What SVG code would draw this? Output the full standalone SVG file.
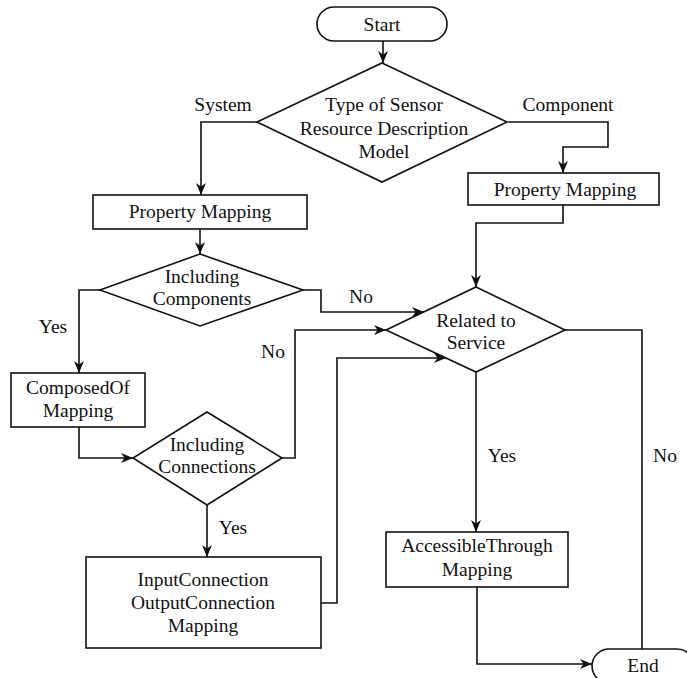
<svg xmlns="http://www.w3.org/2000/svg" width="687" height="678" viewBox="0 0 687 678">
<defs>
<style>
.s{fill:#fff;stroke:#111;stroke-width:1.6}
.c path{fill:none;stroke:#111;stroke-width:1.6}
.t{font-family:"Times New Roman","Liberation Serif","DejaVu Serif",serif;font-size:19.5px;fill:#111;text-anchor:middle}
</style>
<marker id="ah" viewBox="0 0 12 10" refX="12" refY="5" markerWidth="12" markerHeight="10" markerUnits="userSpaceOnUse" orient="auto">
<path d="M0,0 L12,5 L0,10 L3.5,5 z" fill="#111"/>
</marker>
</defs>
<rect width="687" height="678" fill="#fff"/>
<g class="c" id="connectors">
<path d="M383,41 V63" marker-end="url(#ah)"/>
<path d="M257,122 H201 V195" marker-end="url(#ah)"/>
<path d="M508,122 H608 V147 H563 V173" marker-end="url(#ah)"/>
<path d="M200,229 V254" marker-end="url(#ah)"/>
<path d="M100,290 H79 V373" marker-end="url(#ah)"/>
<path d="M303,290 H321 V312 H424" marker-end="url(#ah)"/>
<path d="M79,427 V458 H133" marker-end="url(#ah)"/>
<path d="M282,458 H295 V330 H386" marker-end="url(#ah)"/>
<path d="M207,505 V557" marker-end="url(#ah)"/>
<path d="M321,603 H337 V358 H446" marker-end="url(#ah)"/>
<path d="M563,205 V223 H476 V287" marker-end="url(#ah)"/>
<path d="M476,372 V532" marker-end="url(#ah)"/>
<path d="M565,330 H642 V649"/>
<path d="M477,587 V664 H592" marker-end="url(#ah)"/>
</g>
<g id="labels" class="t">
<text x="223" y="111">System</text>
<text x="568" y="111">Component</text>
<text x="53" y="333">Yes</text>
<text x="361" y="303">No</text>
<text x="273" y="358">No</text>
<text x="233" y="534">Yes</text>
<text x="502" y="462">Yes</text>
<text x="665" y="462">No</text>
</g>
<g id="start" class="t">
<rect class="s" x="317" y="7" width="130" height="34" rx="17"/>
<text x="382" y="31">Start</text>
</g>
<g id="type-model" class="t">
<polygon class="s" points="382,63 507,122 382,182 257,122"/>
<text x="384" y="111">Type of Sensor</text>
<text x="384" y="134.5">Resource Description</text>
<text x="384" y="158">Model</text>
</g>
<g id="property-mapping-system" class="t">
<rect class="s" x="93" y="195" width="214" height="34"/>
<text x="200" y="218">Property Mapping</text>
</g>
<g id="property-mapping-component" class="t">
<rect class="s" x="468" y="173" width="191" height="32"/>
<text x="565" y="196">Property Mapping</text>
</g>
<g id="including-components" class="t">
<polygon class="s" points="200,254 303,290 200,326 100,290"/>
<text x="202" y="283">Including</text>
<text x="202" y="305">Components</text>
</g>
<g id="related-to-service" class="t">
<polygon class="s" points="476,287 565,330 476,372 386,330"/>
<text x="476" y="327">Related to</text>
<text x="476" y="349">Service</text>
</g>
<g id="composedof-mapping" class="t">
<rect class="s" x="11" y="373" width="134" height="54"/>
<text x="78" y="394">ComposedOf</text>
<text x="78" y="417">Mapping</text>
</g>
<g id="including-connections" class="t">
<polygon class="s" points="207,412 282,458 207,505 133,458"/>
<text x="207" y="451">Including</text>
<text x="207" y="473">Connections</text>
</g>
<g id="connection-mapping" class="t">
<rect class="s" x="86" y="557" width="235" height="91"/>
<text x="203" y="586">InputConnection</text>
<text x="203" y="609">OutputConnection</text>
<text x="203" y="632">Mapping</text>
</g>
<g id="accessiblethrough-mapping" class="t">
<rect class="s" x="386" y="532" width="182" height="55"/>
<text x="477" y="552">AccessibleThrough</text>
<text x="477" y="576">Mapping</text>
</g>
<g id="end" class="t">
<rect class="s" x="592" y="649" width="102" height="34" rx="17"/>
<text x="643" y="672">End</text>
</g>
</svg>
